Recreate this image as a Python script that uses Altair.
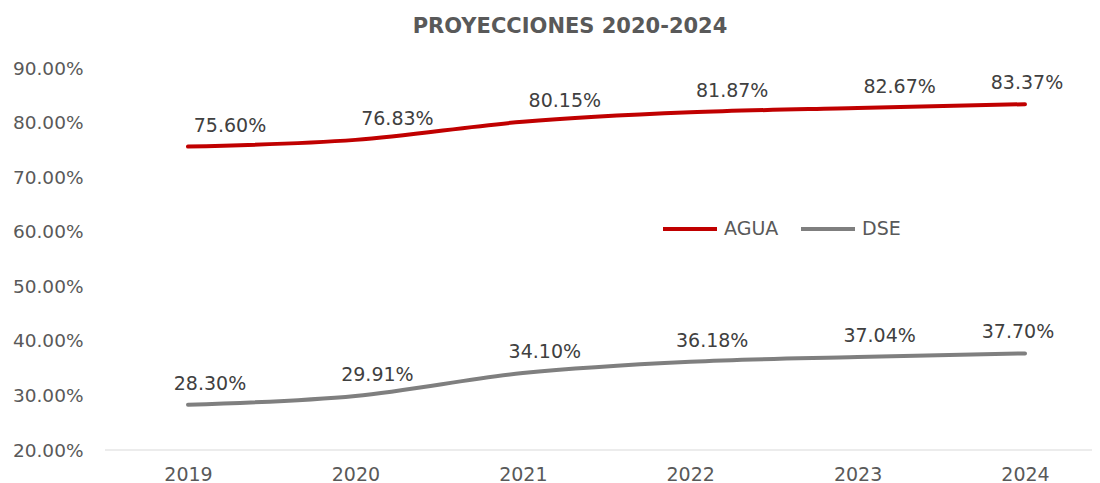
import altair as alt
import pandas as pd

years = ["2019", "2020", "2021", "2022", "2023", "2024"]
agua = [0.7560, 0.7683, 0.8015, 0.8187, 0.8267, 0.8337]
dse = [0.2830, 0.2991, 0.3410, 0.3618, 0.3704, 0.3770]
series_names = ["AGUA", "DSE"]
series_colors = ["#C00000", "#7F7F7F"]

rows = []
for i, y in enumerate(years):
    rows.append({"year": y, "serie": "AGUA", "value": agua[i], "last": i == len(years) - 1})
    rows.append({"year": y, "serie": "DSE", "value": dse[i], "last": i == len(years) - 1})
df = pd.DataFrame(rows)

W, H = 986, 382
FONT = "DejaVu Sans"
xscale = alt.Scale(type="point", range=[82, 919], padding=0)
yscale = alt.Scale(domain=[0.2, 0.9], nice=False, zero=False)

x_enc = alt.X("year:O", sort=years, scale=xscale,
              axis=alt.Axis(title=None, labelAngle=0, domain=False, ticks=False,
                            labelFont=FONT, labelFontSize=19, labelColor="#595959",
                            labelPadding=15, grid=False))
y_enc = alt.Y("value:Q", scale=yscale,
              axis=alt.Axis(title=None, format=".2%", values=[0.2, 0.3, 0.4, 0.5, 0.6, 0.7, 0.8, 0.9],
                            domain=False, ticks=False, grid=False,
                            labelFont=FONT, labelFontSize=18.5, labelColor="#595959",
                            labelPadding=23))

base = alt.Chart(df)

lines = base.mark_line(interpolate="monotone", strokeWidth=4, strokeCap="round").encode(
    x=x_enc, y=y_enc,
    color=alt.Color("serie:N", sort=series_names,
                    scale=alt.Scale(domain=series_names, range=series_colors),
                    legend=alt.Legend(title=None, orient="none", legendX=555, legendY=132,
                                      direction="horizontal", symbolType="stroke",
                                      symbolSize=2916, symbolStrokeWidth=4,
                                      labelFont=FONT, labelFontSize=19, labelColor="#595959",
                                      labelOffset=5, columnPadding=14, padding=0)))

baseline = alt.Chart(pd.DataFrame({"v": [0.2]})).mark_rule(color="#D9D9D9", strokeWidth=1.2).encode(
    y=alt.Y("v:Q", scale=yscale),
    x=alt.value(-1), x2=alt.value(W))

def labels(serie, last, dx):
    return base.transform_filter(
        (alt.datum.serie == serie) & (alt.datum["last"] == last)
    ).mark_text(font=FONT, fontSize=19, color="#404040", dx=dx, dy=-21, baseline="middle").encode(
        x=alt.X("year:O", sort=years, scale=xscale),
        y=alt.Y("value:Q", scale=yscale),
        text=alt.Text("value:Q", format=".2%"))

chart = alt.layer(
    lines, baseline,
    labels("AGUA", False, 42), labels("AGUA", True, 2),
    labels("DSE", False, 22), labels("DSE", True, -7),
).properties(
    width=W, height=H,
    background="white",
    title=alt.TitleParams("PROYECCIONES 2020-2024", font=FONT, fontSize=21, fontWeight="bold",
                          color="#595959", anchor="middle", dx=-29, offset=22),
    autosize=alt.AutoSizeParams(type="none"),
    padding={"left": 98, "top": 60, "right": 0, "bottom": 40},
).configure_view(stroke=None)

chart.save("out.html", embed_options={"renderer": "svg", "actions": False})
